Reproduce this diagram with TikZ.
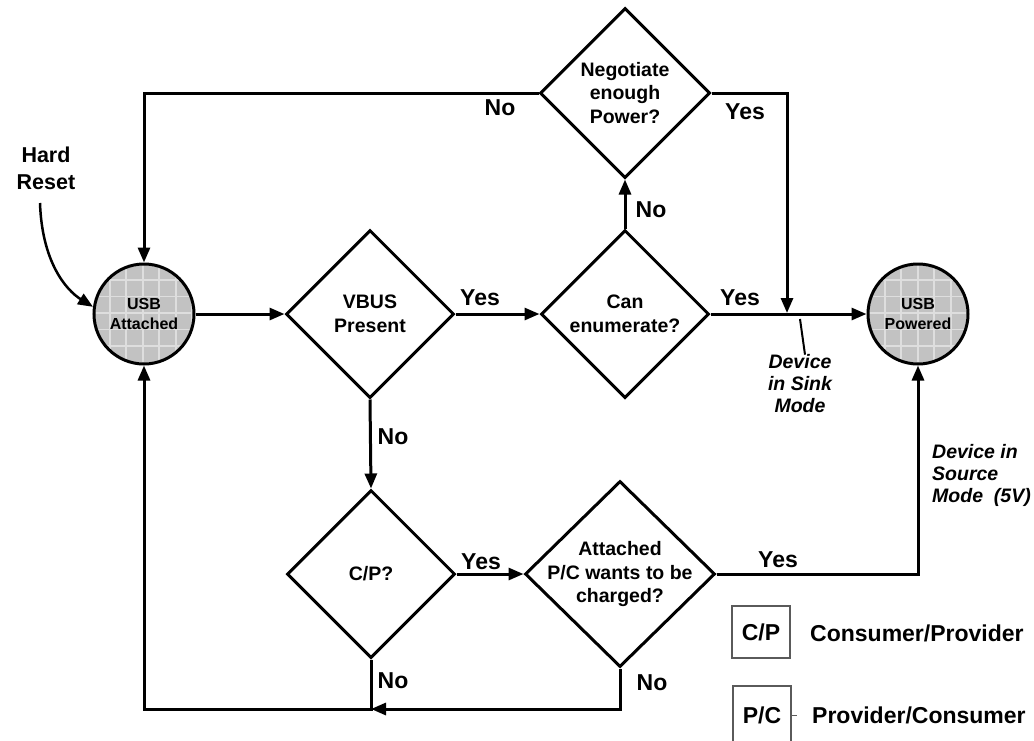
\documentclass[tikz,border=0pt]{standalone}
\usepackage{fontspec}
\setmainfont{Liberation Sans}
\usetikzlibrary{shapes.geometric,arrows.meta}
\definecolor{cfill}{HTML}{C2C2C2}
\definecolor{cgrid}{HTML}{DEDEDE}
\definecolor{lg}{HTML}{5A5A5A}
\begin{document}
\begin{tikzpicture}[x=1pt,y=-1pt,
  ln/.style={line width=3pt},
  arr/.style={line width=3pt,-{Triangle[length=15pt,width=12pt]}},
  dia/.style={diamond,draw,line width=3pt,inner sep=0pt,minimum width=168pt,minimum height=168pt},
  dtxt/.style={align=center,inner sep=0pt,font=\fontsize{19.5}{23.5}\selectfont\bfseries},
  usb/.style={circle,draw,line width=3pt,minimum size=100pt,inner sep=0pt,fill=cfill,align=center,
    font=\fontsize{16}{20}\selectfont\bfseries,
    path picture={\draw[line width=1.8pt,cgrid] ([shift={(-60pt,-60pt)}]path picture bounding box.center) grid[step=16.5pt] ([shift={(60pt,60pt)}]path picture bounding box.center);}},
  lab/.style={inner sep=0pt,font=\fontsize{23}{26}\selectfont\bfseries},
  ital/.style={inner sep=0pt,align=center,font=\fontsize{19.5}{22}\selectfont\bfseries\itshape},
  legbox/.style={draw=lg,line width=1.2pt,minimum width=58pt,inner sep=0pt,font=\fontsize{23}{26}\selectfont\bfseries}]
\useasboundingbox (0,0) rectangle (1034,740);

% main nodes
\node[usb] (att) at (144,314) {USB\\Attached};
\node[usb] (pow) at (918,314) {USB\\Powered};
\node[dia] (vbus) at (370,314) {};
\node[dtxt] at (vbus) {VBUS\\Present};
\node[dia] (enum) at (625,314) {};
\node[dtxt] at (enum) {Can\\enumerate?};
\node[dia,minimum width=170pt,minimum height=170pt] (neg) at (625,93) {};
\node[dtxt] at (neg) {Negotiate\\enough\\Power?};
\node[dia] (cp) at (371,574) {};
\node[dtxt] at (cp) {C/P?};
\node[dia,minimum width=190pt,minimum height=186pt] (pc) at (620,574) {};
\node[dtxt] at (pc) {Attached\\P/C wants to be\\charged?};

% connectors
\draw[arr] (att.east) -- (vbus.west);
\draw[arr] (vbus.east) -- (enum.west);
\node[lab] at (480,298) {Yes};
\draw[arr] (enum.east) -- (pow.west);
\node[lab] at (740,298) {Yes};
\draw[arr] (enum.north) -- (neg.south);
\node[lab] at (651,210) {No};
\draw[arr] (neg.west) -| (att.north);
\node[lab] at (500,108) {No};
\coordinate (sinkj) at (787,313);
\draw[arr] (neg.east) -| (sinkj);
\node[lab] at (745,112) {Yes};
\draw[arr] (vbus.south) -- (cp.north);
\node[lab] at (393,437) {No};
\draw[arr] (cp.east) -- (pc.west);
\node[lab] at (481,562) {Yes};
\draw[arr] (pc.east) -| (pow.south);
\node[lab] at (778,560) {Yes};
\coordinate (bj) at (371,709);
\draw[arr] (cp.south) -- (bj) -| (att.south);
\node[lab] at (393,681) {No};
\draw[arr] (pc.south) |- (bj);
\node[lab] at (652,683) {No};

% sink label
\coordinate (sk1) at (800,319);
\node[ital] (sink) at (800,384) {Device\\in Sink\\Mode};
\draw[line width=2pt] (sk1) -- ([xshift=5pt]sink.north);

% source label
\node[ital,align=left,anchor=west] (src) at (932,475) {Device in\\Source\\Mode~~(5V)};

% hard reset
\node[align=center,inner sep=0pt,font=\fontsize{21.5}{27}\selectfont\bfseries] (hr) at (46,168) {Hard\\Reset};
\coordinate (hr1) at (40,203);
\draw[line width=2.5pt,-{Triangle[length=15pt,width=12pt]}] (hr1) .. controls (42,262) and (66,290) .. (att.172);

% legend
\node[legbox,minimum height=52pt] (lcp) at (761,632) {C/P};
\node[lab,anchor=west] at (810,633) {Consumer/Provider};
\node[legbox,minimum height=58pt] (lpc) at (762,715) {P/C};
\draw[lg,line width=1pt] (lpc.east) -- ++(5,0);
\node[lab,anchor=west] at (812,715) {Provider/Consumer};
\end{tikzpicture}
\end{document}
